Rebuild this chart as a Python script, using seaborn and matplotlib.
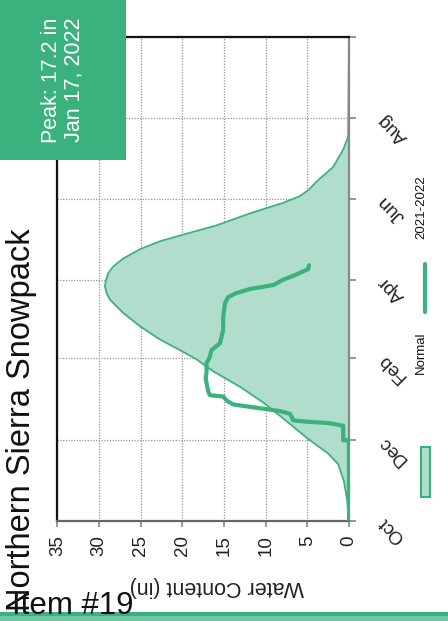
import matplotlib
matplotlib.use("Agg")
import matplotlib.pyplot as plt
from matplotlib.patches import Rectangle
from matplotlib.lines import Line2D
import seaborn as sns
import pandas as pd

# ---- data (days since Oct 1 of water year, inches of water) ----
normal_day = [0, 15, 30, 43, 51, 62, 79, 89, 101, 113, 122, 129, 137, 147, 157, 167, 172, 177, 181, 187,
              192, 198, 205, 211, 216, 223, 232, 240, 245, 250, 256, 267, 280, 290, 365]
normal_in = [0, 0.2, 0.6, 1.3, 2.5, 4.9, 8.2, 10.2, 13.0, 16.3, 18.3, 20.3, 22.7, 25.1, 27.1, 28.7, 29.1, 29.3, 29.2, 28.9,
             28.3, 27.1, 25.1, 22.7, 19.9, 15.9, 11.9, 7.9, 5.9, 4.8, 3.9, 1.9, 0.7, 0.1, 0]

season_day = [0, 61, 61, 72, 74, 75, 76, 79, 81, 83, 88, 91, 94, 95, 98, 104, 108, 112, 119, 124, 129, 134,
              144, 154, 164, 169, 172, 175, 178, 182, 186, 190, 193]
season_in = [0, 0, 0.7, 0.7, 2.5, 5.1, 6.7, 6.9, 7.1, 8.3, 13.9, 14.7, 15.1, 16.7, 16.9, 17.1, 17.2, 17.1, 17.1, 16.7, 16.5, 15.5,
             15.1, 15.1, 14.9, 14.5, 13.5, 11.9, 9.1, 7.9, 6.3, 4.9, 4.8]

month_ticks = [0, 61, 123, 182, 243, 304, 365]
month_labels = ["Oct", "Dec", "Feb", "Apr", "Jun", "Aug", ""]
water_ticks = [0, 5, 10, 15, 20, 25, 30, 35]

title = "Northern Sierra Snowpack"
peak_text = "Peak: 17.2 in\nJan 17, 2022"
item_text = "Item #19"

GREEN = "#3BB27E"
FILL = "#B0DDCC"

sns.set_theme(style="white")
plt.rcParams["font.family"] = ["Liberation Sans", "DejaVu Sans"]

W, H = 448, 621
fig = plt.figure(figsize=(W / 100, H / 100), dpi=100)


def fx(x):
    return x / W


def fy(y):
    return 1 - y / H


ax_l, ax_r, ax_t, ax_b = 57.4, 349, 37, 521.2
ax = fig.add_axes([fx(ax_l), fy(ax_b), (ax_r - ax_l) / W, (ax_b - ax_t) / H])

ndf = pd.DataFrame({"day": normal_day, "water": normal_in})
sdf = pd.DataFrame({"day": season_day, "water": season_in})

ax.fill_betweenx(ndf["day"], 0, ndf["water"], color=FILL, linewidth=0, zorder=1)
sns.lineplot(data=ndf, x="water", y="day", orient="y", sort=False, estimator=None,
             color=GREEN, linewidth=1.3, ax=ax, zorder=2)
sns.lineplot(data=sdf, x="water", y="day", orient="y", sort=False, estimator=None,
             color=GREEN, linewidth=3.0, ax=ax, zorder=3, solid_capstyle="round", solid_joinstyle="round")

ax.set_xlim(35, 0)
ax.set_ylim(0, 365)
ax.set_xlabel("")
ax.set_ylabel("")

ax.set_xticks(water_ticks)
ax.set_xticklabels([str(v) for v in water_ticks])
ax.yaxis.tick_right()
ax.set_yticks(month_ticks)
ax.set_yticklabels(month_labels)

ax.grid(True, axis="both", linestyle=(0, (1, 1.2)), color="#999999", linewidth=0.9)
ax.set_axisbelow(True)

for side in ["left", "top"]:
    ax.spines[side].set_color("#111111")
    ax.spines[side].set_linewidth(1.6)
ax.spines["bottom"].set_color("#666666")
ax.spines["bottom"].set_linewidth(1.6)
ax.spines["right"].set_color("#888888")
ax.spines["right"].set_linewidth(1.6)

ax.tick_params(axis="x", bottom=True, length=4.5, width=1.2, color="#888888", pad=5.5,
               labelsize=13.5, labelcolor="#222222")
ax.tick_params(axis="y", right=True, left=False, length=5, width=1.2, color="#888888", pad=17,
               labelsize=13.5, labelcolor="#222222")
for lab in ax.get_xticklabels():
    lab.set_rotation(90)
    lab.set_va("top")
    lab.set_ha("center")
for lab in ax.get_yticklabels():
    lab.set_rotation(135)
    lab.set_rotation_mode("anchor")
    lab.set_ha("right")
    lab.set_va("center_baseline")

# axis label (rotated with the chart)
fig.text(fx(217), fy(587), "Water Content (in)", rotation=180, ha="center", va="center",
         fontsize=15.5, color="#222222")

# title
fig.text(fx(22), fy(420), title, rotation=90, ha="center", va="center", fontsize=23.5, color="#111111")

# legend (rotated)
fig.add_artist(Rectangle((fx(420.5), fy(496.5)), 9 / W, 50 / H, transform=fig.transFigure,
                         facecolor=FILL, edgecolor=GREEN, linewidth=1.5))
fig.text(fx(421), fy(353), "Normal", rotation=90, ha="center", va="center", fontsize=9.5, color="#111111")
fig.add_artist(Line2D([fx(425), fx(425)], [fy(312), fy(264)], transform=fig.transFigure,
                      color=GREEN, linewidth=3, solid_capstyle="round"))
fig.text(fx(421.5), fy(207), "2021-2022", rotation=90, ha="center", va="center", fontsize=9.5, color="#111111")

# peak box
fig.add_artist(Rectangle((0, fy(160)), 126 / W, 160 / H, transform=fig.transFigure,
                         facecolor=GREEN, edgecolor="none", zorder=5))
fig.text(fx(63), fy(80), peak_text, rotation=90, ha="center", va="center", multialignment="center",
         fontsize=15.5, color="white", linespacing=1.15, zorder=6)

# bottom band
fig.add_artist(Rectangle((0, fy(616)), 1, 4.5 / H, transform=fig.transFigure,
                         facecolor=GREEN, edgecolor="none", zorder=4))
fig.add_artist(Rectangle((0, 0), 1, 5 / H, transform=fig.transFigure,
                         facecolor="#6FC6A0", edgecolor="none", zorder=4))
fig.text(fx(12), fy(620.5), item_text, ha="left", va="bottom", fontsize=22.5, color="#111111", zorder=7)

fig.savefig("out.png", dpi=100)
